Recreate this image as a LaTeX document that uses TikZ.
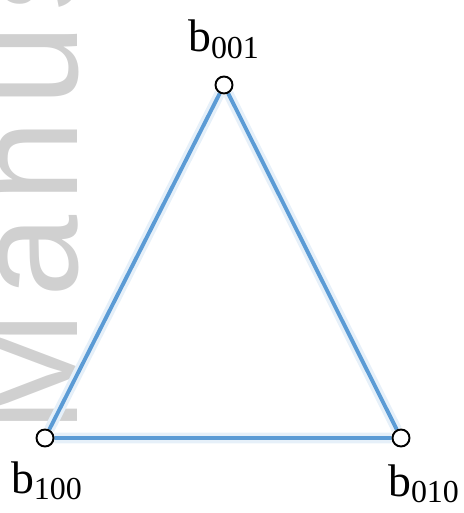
\documentclass[tikz,border=0pt]{standalone}
\usepackage{fontspec}
\setmainfont{Liberation Serif}
\newfontfamily\wmfont[LetterSpace=9]{Liberation Sans}
\usetikzlibrary{positioning,backgrounds}
\definecolor{edgeblue}{RGB}{91,155,213}
\definecolor{wmgray}{RGB}{208,208,208}
\tikzset{
  vtx/.style={circle,draw=black,fill=white,line width=1.1pt,minimum size=0.34cm,inner sep=0pt},
  side/.style={draw=edgeblue,line width=2.2pt},
  glow/.style={draw=edgeblue!15,line width=6pt},
  lbl/.style={font=\fontsize{26}{26}\selectfont,inner sep=0pt,anchor=base},
}

\begin{document}
\begin{tikzpicture}[x=0.02cm,y=-0.02cm]
\useasboundingbox (0,0) rectangle (463,513);
\node[vtx] (v001) at (224,85) {};
\node[vtx] (v100) at (45,438) {};
\node[vtx] (v010) at (401,438) {};
\begin{scope}[on background layer]
  % watermark behind the drawing
  \node[rotate=90,anchor=base west,text=wmgray,inner sep=0pt,
    font=\wmfont\fontsize{84}{84}\selectfont] (wmark) at (77,434) {Manuscript};
  \draw[glow] (v100) -- (v001) -- (v010) -- (v100);
  \draw[side] (v100) -- (v001) -- (v010) -- (v100);
\end{scope}
\node[lbl] (l001) at (224,52) {b\textsubscript{001}};
\node[lbl] (l100) at (47,493) {b\textsubscript{100}};
\node[lbl] (l010) at (424,496) {b\textsubscript{010}};
\end{tikzpicture}
\end{document}
